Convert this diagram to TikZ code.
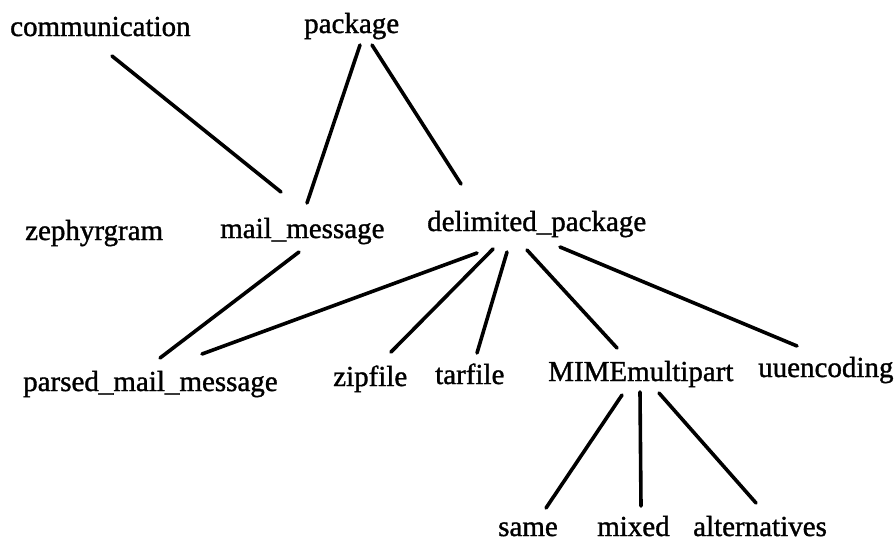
\documentclass[tikz,border=0pt]{standalone}
\usepackage{fontspec}
\setmainfont{Liberation Serif}
\newfontfamily\scanfont[FakeBold=1.2]{Liberation Serif}
\usetikzlibrary{calc}
\begin{document}
\begin{tikzpicture}[x=1pt,y=-1pt,
  lbl/.style={anchor=base west,inner sep=0pt,font=\scanfont\fontsize{29}{34}\selectfont},
  edge/.style={line width=3.6pt,line cap=round}]
\useasboundingbox (0,0) rectangle (896,544);
\fill[white] (0,0) rectangle (896,544);
\node[lbl] (comm)   at (10,36)  {communication};
\node[lbl] (pkg)    at (304,33) {package};
\node[lbl] (zeph)   at (25,240) {zephyrgram};
\node[lbl] (mail)   at (220,238) {mail\_message};
\node[lbl] (delim)  at (427,231) {delimited\_package};
\node[lbl] (parsed) at (23,391) {parsed\_mail\_message};
\node[lbl] (zip)    at (333,386) {zipfile};
\node[lbl] (tar)    at (435,384) {tarfile};
\node[lbl] (mime)   at (548,381) {MIMEmultipart};
\node[lbl] (uu)     at (758,377) {uuencoding};
\node[lbl] (same)   at (498,536) {same};
\node[lbl] (mixed)  at (597,536) {mixed};
\node[lbl] (alt)    at (693,536) {alternatives};
\draw[edge] ($(comm.base west)+(102,20)$) -- ($(mail.base west)+(61,-46)$);
\draw[edge] ($(pkg.base west)+(56,12)$) -- ($(mail.base west)+(87,-35)$);
\draw[edge] ($(pkg.base west)+(68,12)$) -- ($(delim.base west)+(34,-47)$);
\draw[edge] ($(mail.base west)+(79,14)$) -- ($(parsed.base west)+(137,-33)$);
\draw[edge] ($(delim.base west)+(50,22)$) -- ($(parsed.base west)+(179,-37)$);
\draw[edge] ($(delim.base west)+(66,18)$) -- ($(zip.base west)+(58,-34)$);
\draw[edge] ($(delim.base west)+(80,21)$) -- ($(tar.base west)+(42,-31)$);
\draw[edge] ($(delim.base west)+(100,19)$) -- ($(mime.base west)+(69,-33)$);
\draw[edge] ($(delim.base west)+(133,16)$) -- ($(uu.base west)+(39,-31)$);
\draw[edge] ($(mime.base west)+(74,14)$) -- ($(same.base west)+(48,-28)$);
\draw[edge] ($(mime.base west)+(92,11)$) -- ($(mixed.base west)+(44,-30)$);
\draw[edge] ($(mime.base west)+(111,12)$) -- ($(alt.base west)+(63,-33)$);
\end{tikzpicture}
\end{document}
